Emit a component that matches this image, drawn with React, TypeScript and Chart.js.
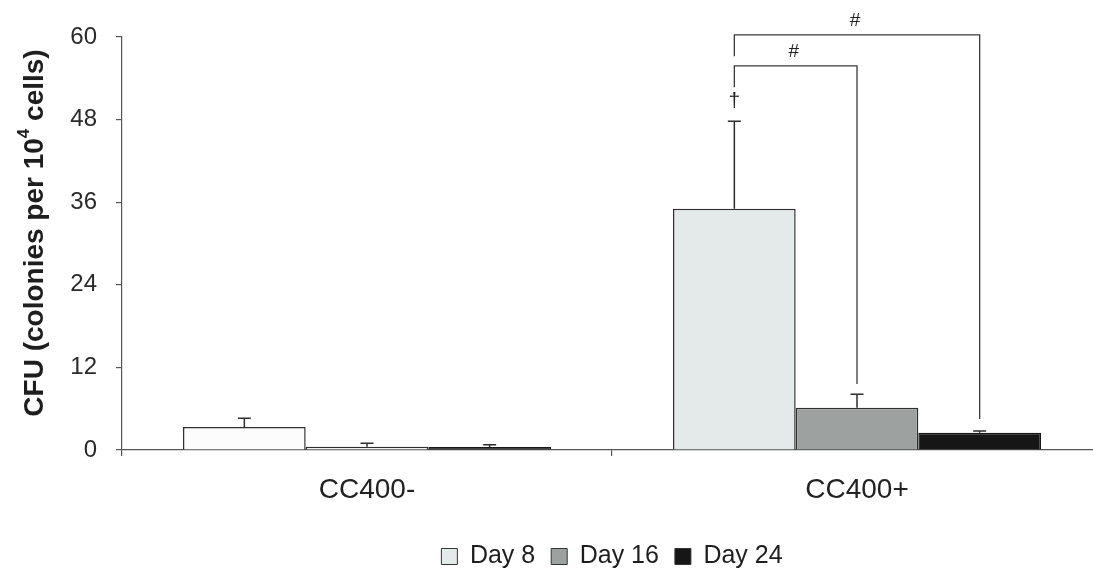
import React, { useEffect, useRef } from "react";
import { Chart, registerables } from "chart.js";

Chart.register(...registerables);

const categories = ["CC400-", "CC400+"];
const seriesNames = ["Day 8", "Day 16", "Day 24"];
const day8 = [3.35, 35.05];
const day16 = [0.48, 6.15];
const day24 = [0.45, 2.5];
const err8 = [1.25, 12.7];
const err16 = [0.5, 1.95];
const err24 = [0.3, 0.25];
const yTicks = [0, 12, 24, 36, 48, 60];
const yTitleParts = ["CFU (colonies per 10", "4", " cells)"];

// significance brackets: [fromSeries, toSeries, category, level, leftEnd, rightEnd, label]
const brackets: [number, number, number, number, number, number, string][] = [
  [0, 1, 1, 55.8, 52.7, 9.6, "#"],
  [0, 2, 1, 60.3, 57.2, 4.5, "#"],
];
// dagger marker: [series, category, value, label]
const markers: [number, number, number, string][] = [[0, 1, 50.7, "†"]];

const FONT = "'Liberation Sans', Arial, Helvetica, sans-serif";

export default function App() {
  const ref = useRef<HTMLCanvasElement | null>(null);

  useEffect(() => {
    if (!ref.current) return;
    const errors = [err8, err16, err24];

    const annotations = {
      id: "annotations",
      afterDatasetsDraw(chart: any) {
        const ctx = chart.ctx;
        const y = chart.scales.y;
        ctx.save();
        // error bars
        ctx.strokeStyle = "#2e2e2e";
        ctx.lineWidth = 1.5;
        errors.forEach((errs, di) => {
          const meta = chart.getDatasetMeta(di);
          meta.data.forEach((bar: any, ci: number) => {
            const v = chart.data.datasets[di].data[ci] as number;
            const top = y.getPixelForValue(v + errs[ci]);
            const base = y.getPixelForValue(v);
            ctx.beginPath();
            ctx.moveTo(bar.x, base);
            ctx.lineTo(bar.x, top);
            ctx.moveTo(bar.x - 6.5, top);
            ctx.lineTo(bar.x + 6.5, top);
            ctx.stroke();
          });
        });
        // brackets
        ctx.strokeStyle = "#3a3a3a";
        ctx.lineWidth = 1.3;
        ctx.fillStyle = "#222";
        ctx.font = `19px ${FONT}`;
        ctx.textAlign = "center";
        ctx.textBaseline = "middle";
        brackets.forEach(([a, b, ci, level, lEnd, rEnd, label]) => {
          const xa = chart.getDatasetMeta(a).data[ci].x;
          const xb = chart.getDatasetMeta(b).data[ci].x;
          const yl = y.getPixelForValue(level);
          ctx.beginPath();
          ctx.moveTo(xa, y.getPixelForValue(lEnd));
          ctx.lineTo(xa, yl);
          ctx.lineTo(xb, yl);
          ctx.lineTo(xb, y.getPixelForValue(rEnd));
          ctx.stroke();
          ctx.fillText(label, (xa + xb) / 2 - 2, yl - 14);
        });
        ctx.font = `21px ${FONT}`;
        markers.forEach(([di, ci, v, label]) => {
          const x = chart.getDatasetMeta(di).data[ci].x;
          ctx.fillText(label, x, y.getPixelForValue(v));
        });
        ctx.restore();
      },
      afterDraw(chart: any) {
        // y-axis title with a real superscript
        const ctx = chart.ctx;
        const big = `bold 28px ${FONT}`;
        const small = `bold 17px ${FONT}`;
        ctx.save();
        ctx.font = big;
        const w0 = ctx.measureText(yTitleParts[0]).width;
        const w2 = ctx.measureText(yTitleParts[2]).width;
        ctx.font = small;
        const w1 = ctx.measureText(yTitleParts[1]).width;
        const total = w0 + w1 + w2;
        ctx.translate(35, 233);
        ctx.rotate(-Math.PI / 2);
        ctx.fillStyle = "#1e1e1e";
        ctx.textBaseline = "middle";
        ctx.textAlign = "left";
        let x = -total / 2;
        ctx.font = big;
        ctx.fillText(yTitleParts[0], x, 0);
        x += w0;
        ctx.font = small;
        ctx.fillText(yTitleParts[1], x, -11);
        x += w1;
        ctx.font = big;
        ctx.fillText(yTitleParts[2], x, 0);
        ctx.restore();
      },
    };

    const chart = new Chart(ref.current, {
      type: "bar",
      data: {
        labels: categories,
        datasets: [
          {
            label: seriesNames[0],
            data: day8,
            backgroundColor: ["#fcfcfc", "#e4e9ea"],
            borderColor: "#2f2f2f",
            borderWidth: 1.5,
          },
          {
            label: seriesNames[1],
            data: day16,
            backgroundColor: ["#f2f2f2", "#9da2a1"],
            borderColor: "#2f2f2f",
            borderWidth: 1.5,
          },
          {
            label: seriesNames[2],
            data: day24,
            backgroundColor: ["#161616", "#161616"],
            borderColor: "#161616",
            borderWidth: 1.5,
          },
        ],
      },
      options: {
        responsive: false,
        animation: false,
        layout: { padding: { top: 37, left: 0, right: 8, bottom: 0 } },
        datasets: {
          bar: { barPercentage: 1, categoryPercentage: 0.751 },
        },
        scales: {
          x: {
            grid: {
              display: true,
              drawOnChartArea: false,
              offset: true,
              tickLength: 6,
              color: "#555",
              lineWidth: 1.2,
            },
            border: { display: true, color: "#555", width: 1.2 },
            ticks: {
              font: { family: FONT, size: 28 },
              color: "#222",
              padding: 17,
            },
            afterFit(scale: any) {
              scale.height = 78;
            },
          },
          y: {
            min: 0,
            max: 60,
            afterBuildTicks(scale: any) {
              scale.ticks = yTicks.map((v) => ({ value: v }));
            },
            grid: {
              display: true,
              drawOnChartArea: false,
              tickLength: 6,
              color: "#555",
              lineWidth: 1.2,
            },
            border: { display: true, color: "#555", width: 1.2 },
            ticks: {
              font: { family: FONT, size: 24 },
              color: "#2a2a2a",
              padding: 19,
            },
            title: { display: false },
            afterFit(scale: any) {
              scale.width = 122;
            },
          },
        },
        plugins: {
          tooltip: { enabled: false },
          legend: {
            position: "bottom",
            fullSize: false,
            labels: {
              font: { family: FONT, size: 25 },
              color: "#1e1e1e",
              boxWidth: 16,
              boxHeight: 16,
              padding: 16,
              generateLabels(ch: any) {
                return ch.data.datasets.map((ds: any, i: number) => ({
                  text: ds.label,
                  fillStyle: ds.backgroundColor[1],
                  strokeStyle: "#333",
                  lineWidth: 1,
                  hidden: false,
                  datasetIndex: i,
                  fontColor: "#1e1e1e",
                }));
              },
            },
          },
        },
      } as any,
      plugins: [annotations],
    });
    return () => chart.destroy();
  }, []);

  return (
    <div
      style={{
        position: "fixed",
        left: 0,
        top: 0,
        width: 1093,
        height: 570,
        overflow: "hidden",
        background: "#fff",
      }}
    >
      <canvas ref={ref} width={1110} height={579} />
    </div>
  );
}
